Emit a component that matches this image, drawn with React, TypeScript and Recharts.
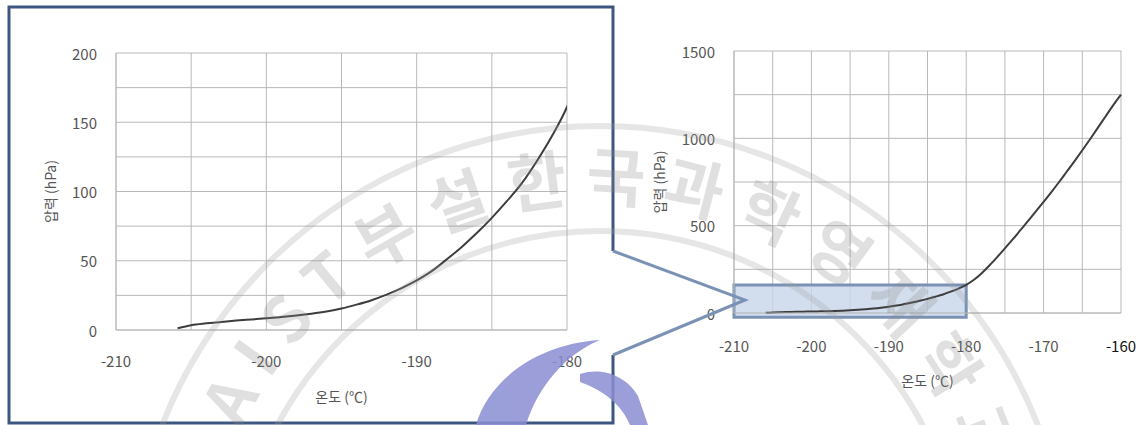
import React from "react";
import {
  CartesianGrid,
  Label,
  Line,
  LineChart,
  ReferenceArea,
  XAxis,
  YAxis,
} from "recharts";

// temperature (°C) vs vapour pressure (hPa)
const temps = [
  -205.9, -205, -204, -203, -202, -201, -200, -199, -198, -197, -196, -195,
  -194, -193, -192, -191, -190, -189, -188, -187, -186, -185, -184, -183,
  -182, -181, -180, -179, -178, -177, -176, -175, -174, -173, -172, -171,
  -170, -169, -168, -167, -166, -165, -164, -163, -162, -161, -160,
];
const pressures = [
  1.2, 3.5, 4.8, 5.8, 6.8, 7.6, 8.4, 9.4, 10.5, 11.8, 13.4, 15.5, 18.3, 21.5,
  25.5, 30.2, 35.8, 42.5, 51, 60, 70, 81, 93, 106, 122, 140, 161, 190, 228,
  272, 320, 370, 421, 474, 527, 582, 636, 692, 750, 810, 870, 932, 995, 1060,
  1125, 1190, 1250,
];

// zoomed inset (left)
const zoomTicksX = [-210, -205, -200, -195, -190, -185, -180];
const zoomTicksY = [0, 25, 50, 75, 100, 125, 150, 175, 200];
// full range (right)
const fullTicksX = [
  -210, -205, -200, -195, -190, -185, -180, -175, -170, -165, -160,
];
const fullTicksY = [0, 250, 500, 750, 1000, 1250, 1500];
// highlighted region on the full chart that the inset enlarges
const zoomRegionX = [-210, -180];
const zoomRegionY = [-25, 160];

const xTitle = "온도 (℃)";
const yTitle = "압력 (hPa)";
const watermark = "KAIST 부설 한국과학영재학교";

const data = temps.map((t, i) => ({ t, p: pressures[i] }));

const FONT = '"Noto Sans CJK KR", "Noto Sans", sans-serif';
const GRID = "#b9b9b9";
const TEXT = "#555";

const xTick = (step: number, dark?: number) => (p: any) => {
  const v = p.payload.value;
  if (v % step !== 0) return <g />;
  return (
    <text
      x={p.x}
      y={p.y}
      textAnchor="middle"
      dominantBaseline="central"
      fontSize={15}
      fontFamily={FONT}
      fill={v === dark ? "#111" : TEXT}
    >
      {v}
    </text>
  );
};

const yTick = (step: number) => (p: any) => {
  const v = p.payload.value;
  if (v % step !== 0) return <g />;
  return (
    <text
      x={p.x}
      y={p.y}
      textAnchor="end"
      dominantBaseline="central"
      fontSize={15}
      fontFamily={FONT}
      fill={TEXT}
    >
      {v}
    </text>
  );
};

const xLabel = (dy: number) => (p: any) => {
  const vb = p.viewBox;
  return (
    <text
      x={vb.x + vb.width / 2}
      y={vb.y + dy}
      textAnchor="middle"
      dominantBaseline="central"
      fontSize={14}
      fontFamily={FONT}
      fill={TEXT}
    >
      {xTitle}
    </text>
  );
};

const yLabel = (dx: number) => (p: any) => {
  const vb = p.viewBox;
  const cx = vb.x + vb.width - dx;
  const cy = vb.y + vb.height / 2;
  return (
    <text
      x={cx}
      y={cy}
      transform={`rotate(-90 ${cx} ${cy})`}
      textAnchor="middle"
      dominantBaseline="central"
      fontSize={14}
      fontFamily={FONT}
      fill={TEXT}
    >
      {yTitle}
    </text>
  );
};

function ZoomChart() {
  return (
    <LineChart
      width={600}
      height={425}
      data={data}
      margin={{ top: 53, right: 33, bottom: 0, left: 0 }}
    >
      <CartesianGrid stroke={GRID} />
      <XAxis
        dataKey="t"
        type="number"
        domain={[-210, -180]}
        ticks={zoomTicksX}
        allowDataOverflow
        interval={0}
        height={95}
        stroke={GRID}
        tickLine={false}
        tickSize={0}
        tickMargin={30}
        tick={xTick(10)}
      >
        <Label content={xLabel(66)} />
      </XAxis>
      <YAxis
        type="number"
        domain={[0, 200]}
        ticks={zoomTicksY}
        allowDataOverflow
        interval={0}
        width={116}
        stroke={GRID}
        tickLine={false}
        tickSize={0}
        tickMargin={19}
        tick={yTick(50)}
      >
        <Label content={yLabel(66)} />
      </YAxis>
      <Line
        dataKey="p"
        type="monotone"
        stroke="#3d3d3d"
        strokeWidth={2}
        dot={false}
        isAnimationActive={false}
      />
    </LineChart>
  );
}

function FullChart() {
  return (
    <LineChart
      width={522}
      height={425}
      data={data}
      margin={{ top: 51, right: 21, bottom: 0, left: 0 }}
    >
      <CartesianGrid stroke={GRID} />
      <XAxis
        dataKey="t"
        type="number"
        domain={[-210, -160]}
        ticks={fullTicksX}
        interval={0}
        height={112}
        stroke={GRID}
        tickLine={false}
        tickSize={0}
        tickMargin={32}
        tick={xTick(10, -160)}
      >
        <Label content={xLabel(67)} />
      </XAxis>
      <YAxis
        type="number"
        domain={[0, 1500]}
        ticks={fullTicksY}
        interval={0}
        width={114}
        stroke={GRID}
        tickLine={false}
        tickSize={0}
        tickMargin={19}
        tick={yTick(500)}
      >
        <Label content={yLabel(75)} />
      </YAxis>
      <ReferenceArea
        x1={zoomRegionX[0]}
        x2={zoomRegionX[1]}
        y1={zoomRegionY[0]}
        y2={zoomRegionY[1]}
        ifOverflow="visible"
        fill="#c7d6ea"
        fillOpacity={0.8}
        stroke="#7b92b6"
        strokeWidth={3}
      />
      <Line
        dataKey="p"
        type="monotone"
        stroke="#3d3d3d"
        strokeWidth={2}
        dot={false}
        isAnimationActive={false}
      />
    </LineChart>
  );
}

export default function App() {
  return (
    <div
      style={{
        position: "absolute",
        left: 0,
        top: 0,
        width: 1142,
        height: 425,
        background: "#fff",
        overflow: "hidden",
        fontFamily: FONT,
      }}
    >
      <div style={{ position: "absolute", left: 0, top: 0 }}>
        <ZoomChart />
      </div>
      <div style={{ position: "absolute", left: 620, top: 0 }}>
        <FullChart />
      </div>
      <svg
        width={1142}
        height={425}
        style={{ position: "absolute", left: 0, top: 0, pointerEvents: "none" }}
      >
        {/* callout frame around the inset */}
        <path
          d="M613 251 L613 7 L9 7 L9 423 L613 423 L613 355"
          fill="none"
          stroke="#3e5780"
          strokeWidth={3}
        />
        <path
          d="M613 251 L745 300 L613 355"
          fill="none"
          stroke="#7b92b6"
          strokeWidth={3}
        />
        {/* faint watermark */}
        <g opacity={0.26}>
          <path id="wmArc" d="M205 596 A395 395 0 0 1 995 596" fill="none" />
          <circle cx={600} cy={596} r={470} fill="none" stroke="#a0a0a0" strokeWidth={6} />
          <circle cx={600} cy={596} r={365} fill="none" stroke="#a0a0a0" strokeWidth={6} />
          <text
            fontSize={64}
            fontWeight={700}
            fill="#8a8a8a"
            fontFamily={FONT}
            letterSpacing={16}
            wordSpacing={-28}
          >
            <textPath href="#wmArc" startOffset={112}>
              {watermark}
            </textPath>
          </text>
        </g>
        <g fill="#8a8ed2" opacity={0.85}>
          <path d="M476 425 C488 382 535 344 600 340 C566 354 538 386 526 425 Z" />
          <path d="M580 374 C604 366 628 378 638 396 L648 425 L630 425 C623 408 608 392 580 382 Z" />
        </g>
      </svg>
    </div>
  );
}
